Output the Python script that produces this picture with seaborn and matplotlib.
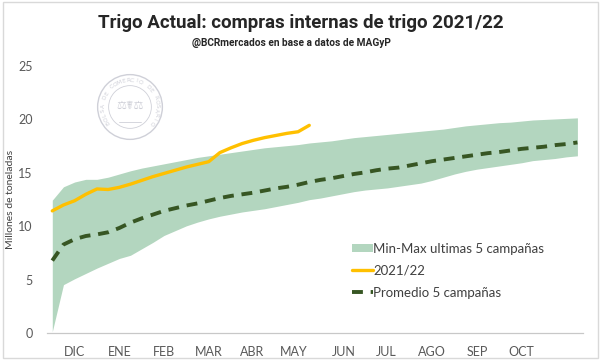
import numpy as np
import pandas as pd
import matplotlib
matplotlib.use("Agg")
import matplotlib.pyplot as plt
import seaborn as sns
from matplotlib.patches import Patch, Circle, Rectangle
from matplotlib.lines import Line2D

# ----------------------------
# Data (weekly, Dec -> Oct), millones de toneladas
# ----------------------------
actual_2122 = [11.45, 12.0, 12.4, 13.0, 13.5, 13.45, 13.65, 13.95, 14.3, 14.65,
               14.95, 15.25, 15.55, 15.8, 16.05, 16.9, 17.35, 17.75, 18.05, 18.3,
               18.5, 18.7, 18.85, 19.45]

promedio_5 = [6.8, 8.3, 8.8, 9.1, 9.25, 9.45, 9.85, 10.35, 10.75, 11.1,
              11.45, 11.7, 11.95, 12.15, 12.4, 12.65, 12.85, 13.0, 13.15, 13.35,
              13.55, 13.7, 13.9, 14.15, 14.35, 14.5, 14.7, 14.9, 15.05, 15.25,
              15.4, 15.5, 15.7, 15.9, 16.1, 16.25, 16.4, 16.55, 16.7, 16.85,
              16.95, 17.1, 17.25, 17.35, 17.45, 17.6, 17.7, 17.85]

max_5 = [12.45, 13.7, 14.15, 14.4, 14.4, 14.6, 14.9, 15.2, 15.45, 15.65,
         15.85, 16.05, 16.25, 16.45, 16.6, 16.75, 16.9, 17.05, 17.2, 17.35,
         17.45, 17.55, 17.65, 17.8, 17.9, 18.0, 18.15, 18.3, 18.4, 18.5,
         18.6, 18.7, 18.8, 18.9, 19.0, 19.1, 19.25, 19.4, 19.5, 19.6,
         19.7, 19.75, 19.85, 19.95, 20.0, 20.05, 20.1, 20.15]

min_5 = [0.15, 4.55, 5.1, 5.6, 6.1, 6.55, 7.0, 7.3, 7.9, 8.5,
         9.15, 9.6, 10.05, 10.4, 10.7, 10.95, 11.15, 11.35, 11.5, 11.65,
         11.85, 12.05, 12.25, 12.5, 12.65, 12.85, 13.05, 13.25, 13.4, 13.5,
         13.6, 13.75, 13.9, 14.05, 14.3, 14.6, 14.9, 15.15, 15.35, 15.5,
         15.65, 15.8, 15.95, 16.15, 16.25, 16.35, 16.5, 16.6]

months = ["DIC", "ENE", "FEB", "MAR", "ABR", "MAY", "JUN", "JUL", "AGO", "SEP", "OCT"]
month_week = [2.0, 6.0, 10.0, 14.0, 17.9, 21.6, 26.1, 29.9, 34.0, 38.0, 42.0]

weeks = np.arange(len(promedio_5))
df_prom = pd.DataFrame({"week": weeks, "valor": promedio_5})
df_act = pd.DataFrame({"week": weeks[:len(actual_2122)], "valor": actual_2122})

# ----------------------------
# Style
# ----------------------------
sns.set_theme(style="white")
plt.rcParams["font.family"] = ["Lato", "DejaVu Sans"]

GREEN_BAND = "#b3d6bf"
YELLOW = "#ffc000"
DARK_GREEN = "#375623"
GRAY_TXT = "#595959"
AXIS_GRAY = "#c8c8c8"

fig = plt.figure(figsize=(6.0, 3.63), dpi=100)
ax = fig.add_axes([46.7 / 600, 1 - 333.3 / 363, (583 - 46.7) / 600, (333.3 - 66) / 363])

# band + lines
ax.fill_between(weeks, min_5, max_5, color=GREEN_BAND, linewidth=0, zorder=1)
sns.lineplot(data=df_prom, x="week", y="valor", ax=ax, color=DARK_GREEN,
             linewidth=2.8, zorder=3)
ax.lines[-1].set_dashes((2.8, 2.0))
sns.lineplot(data=df_act, x="week", y="valor", ax=ax, color=YELLOW,
             linewidth=2.4, zorder=4)

ax.set_xlim(-0.5, len(weeks) - 0.5)
ax.set_ylim(0, 25)
ax.set_yticks(range(0, 26, 5))
ax.set_xticks(month_week)
ax.set_xticklabels(months)
ax.set_xticks(np.arange(-0.5, len(weeks), 1), minor=True)
ax.tick_params(axis="x", which="major", length=0, pad=9, labelsize=9, labelcolor=GRAY_TXT)
ax.tick_params(axis="x", which="minor", length=4, width=0.8, color=AXIS_GRAY, direction="out")
ax.tick_params(axis="y", length=0, pad=10, labelsize=9, labelcolor=GRAY_TXT)
ax.set_xlabel("")
ax.set_ylabel("Millones de toneladas", fontsize=7.5, color="#404040")
ax.yaxis.set_label_coords(-0.06, 0.5)

for side in ["top", "right", "left"]:
    ax.spines[side].set_visible(False)
ax.spines["bottom"].set_color(AXIS_GRAY)
ax.spines["bottom"].set_linewidth(0.9)
ax.grid(False)

# legend
handles = [
    Patch(facecolor=GREEN_BAND, edgecolor="none"),
    Line2D([0], [0], color=YELLOW, linewidth=2.4),
    Line2D([0], [0], color=DARK_GREEN, linewidth=2.8, dashes=(2.8, 2.0)),
]
labels = ["Min-Max ultimas 5 campañas", "2021/22", "Promedio 5 campañas"]
leg = ax.legend(handles, labels, loc="upper left", bbox_to_anchor=(0.56, 0.358),
                frameon=False, fontsize=9.5, handlelength=1.6, handleheight=0.6,
                handletextpad=0.0, labelspacing=0.75, borderaxespad=0)
for t in leg.get_texts():
    t.set_color("#404040")

# titles
fig.text(0.502, 0.938, "Trigo Actual: compras internas de trigo 2021/22",
         ha="center", va="center", fontsize=13.5, fontweight="bold", color="#262626",
         family=["Roboto", "DejaVu Sans"])
fig.text(0.485, 0.882, "@BCRmercados en base a datos de MAGyP",
         ha="center", va="center", fontsize=7.3, fontweight="bold", color="#262626",
         family=["Roboto", "DejaVu Sans"])

# watermark seal
seal = fig.add_axes([96 / 600, 1 - 141 / 363, 68 / 600, 68 / 363])
seal.set_xlim(-1.05, 1.05)
seal.set_ylim(-1.05, 1.05)
seal.set_aspect("equal")
seal.axis("off")
seal_col = "#cfd0d8"
seal.add_patch(Circle((0, 0), 1.0, fill=False, edgecolor=seal_col, linewidth=1.0))
seal.add_patch(Circle((0, 0), 0.66, fill=False, edgecolor=seal_col, linewidth=0.6))
seal_text = "BOLSA DE COMERCIO DE ROSARIO"
angles = np.linspace(215, -35, len(seal_text))
for ch, a in zip(seal_text, angles):
    r = 0.83
    seal.text(r * np.cos(np.radians(a)), r * np.sin(np.radians(a)), ch,
              rotation=a - 90, ha="center", va="center", fontsize=4.2,
              color=seal_col, family="DejaVu Sans")
seal.text(0, 0.05, "\u2696\u2624\u2696", ha="center", va="center", fontsize=8,
          color=seal_col, family="DejaVu Sans")
seal.plot([-0.35, 0.35], [-0.45, -0.45], color=seal_col, linewidth=0.6)

# light frame around the image
fig.add_artist(Rectangle((3 / 600, 1 - 358 / 363), 595 / 600, 356 / 363,
                         transform=fig.transFigure, fill=False,
                         edgecolor="#d9d9d9", linewidth=1.0))

fig.savefig("out.png", dpi=100)
plt.close(fig)
